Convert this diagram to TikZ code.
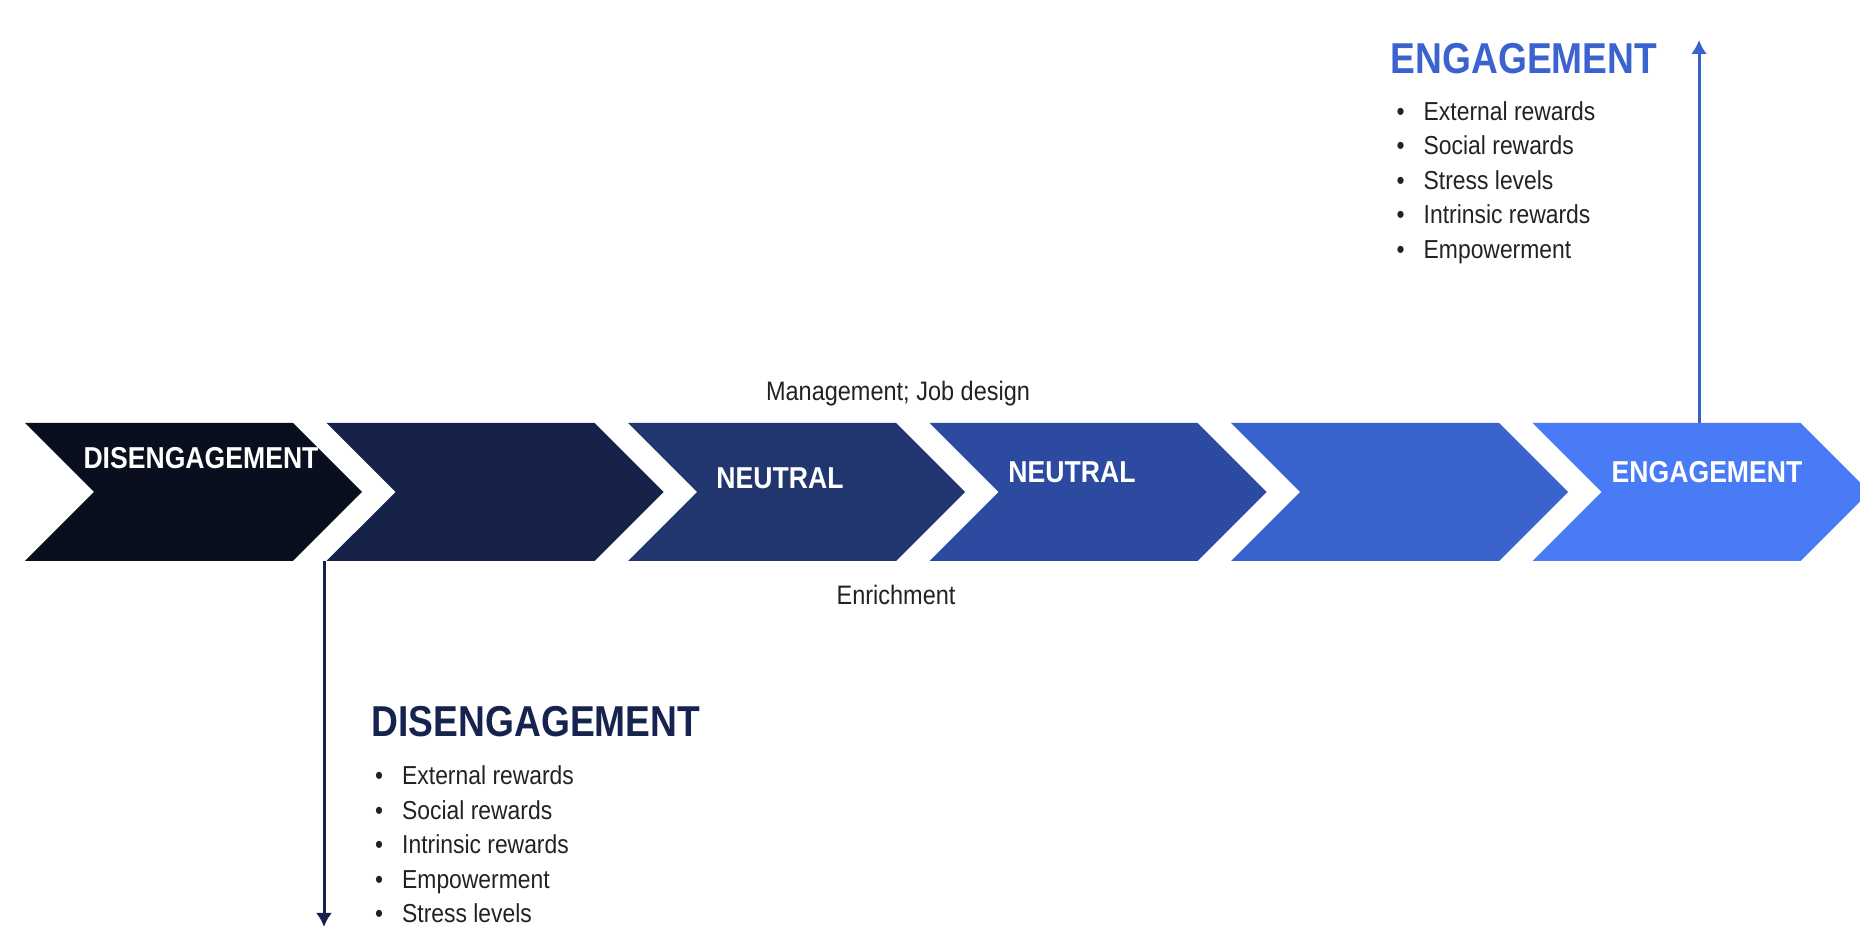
\documentclass[tikz,border=0pt]{standalone}
\usepackage{xcolor}
\usepackage{fontspec}
\setmainfont{Liberation Sans}[FakeStretch=0.88]
\newfontfamily\headfont{Liberation Sans}[FakeStretch=0.86]
\usepackage{tikz}
\usetikzlibrary{shapes}
\usetikzlibrary{arrows.meta}
\usetikzlibrary{positioning}
\usetikzlibrary{calc}
\definecolor{stga}{HTML}{0A0F20}
\definecolor{stgb}{HTML}{16224A}
\definecolor{stgc}{HTML}{21366F}
\definecolor{stgd}{HTML}{2C4A9F}
\definecolor{stge}{HTML}{3962CC}
\definecolor{stgf}{HTML}{4A7BF6}
\definecolor{enghead}{HTML}{3B63D0}
\definecolor{dishead}{HTML}{16234F}
\definecolor{txtgrey}{HTML}{222222}

\begin{document}
\begin{tikzpicture}[
  stage/.style={
    signal, signal to=east, signal from=west,
    signal pointer angle=90,
    fill=#1,
    minimum width=3.37cm,
    minimum height=1.38cm,
    inner sep=0pt, outer sep=0pt},
  lbl/.style={
    text=white,
    font=\fontsize{8.6}{10}\selectfont\bfseries,
    inner sep=0pt},
  note/.style={
    text=txtgrey,
    font=\fontsize{7.6}{9}\selectfont,
    inner sep=0pt},
  head/.style={
    text=#1,
    font=\headfont\fontsize{12.3}{14}\selectfont\bfseries,
    inner sep=0pt, anchor=base west},
  bul/.style={
    text=txtgrey,
    font=\fontsize{7.4}{9}\selectfont,
    inner sep=0pt, anchor=base west},
  dep/.style={
    -{Latex[length=1.4mm,width=1.6mm]},
    line width=0.3mm, draw=#1},
]

  \useasboundingbox (0,0) rectangle (18.6,9.3);

  \def\stepsize{3.015}%
  \def\xbase{1.935}%
  \def\lvlbase{4.38}%

        % the six stages, dark to light
        \node[stage={stga}] (stage_1) 
            at (\xbase + 0*\stepsize, \lvlbase) {};
        \node[stage={stgb}] (stage_2) 
            at (\xbase + 1*\stepsize, \lvlbase) {};
        \node[stage={stgc}] (stage_3) 
            at (\xbase + 2*\stepsize, \lvlbase) {};
        \node[stage={stgd}] (stage_4) 
            at (\xbase + 3*\stepsize, \lvlbase) {};
        \node[stage={stge}] (stage_5) 
            at (\xbase + 4*\stepsize, \lvlbase) {};
        \node[stage={stgf}] (stage_6) 
            at (\xbase + 5*\stepsize, \lvlbase) {};

        \node[lbl] (lbl_1) at (2.01, \lvlbase + 0.34) {DISENGAGEMENT};
        \node[lbl] (lbl_3) at (7.80, \lvlbase + 0.14) {NEUTRAL};
        \node[lbl] (lbl_4) at (10.72, \lvlbase + 0.20) {NEUTRAL};
        \node[lbl] (lbl_6) at (17.07, \lvlbase + 0.20) {ENGAGEMENT};

        \node[note, anchor=base] (mgmt) at (8.98, 5.29) {Management; Job design};
        \node[note, anchor=base] (enrich) at (8.96, 3.25) {Enrichment};


        \path (stage_6.north) ++(-0.02,3.83) coordinate (eng_end);
        \path (stage_2.south west) ++(-0.025,0) coordinate (dis_start);
        \path (dis_start) ++(0,-3.66) coordinate (dis_end);

        \draw[dep={stge}] (stage_6.north -| eng_end) -- (eng_end);
        \draw[dep={stgb}] (dis_start) -- (dis_end);


        % engagement side
        \node[head={enghead}] (eng_head) at (13.90, 8.565) {ENGAGEMENT};
        \foreach \txt [count=\i from 0] in {External rewards, Social rewards,
            Stress levels, Intrinsic rewards, Empowerment} {
            \node[bul] (eng_item_\i) at (13.96, 8.095 - \i*0.344)
                {\makebox[2.7mm][l]{\textbullet}\txt};
        }

        % disengagement side
        \node[head={dishead}] (dis_head) at (3.71, 1.93) {DISENGAGEMENT};
        \foreach \txt [count=\i from 0] in {External rewards, Social rewards,
            Intrinsic rewards, Empowerment, Stress levels} {
            \node[bul] (dis_item_\i) at (3.745, 1.45 - \i*0.344)
                {\makebox[2.7mm][l]{\textbullet}\txt};
        }

\end{tikzpicture}
\end{document}
